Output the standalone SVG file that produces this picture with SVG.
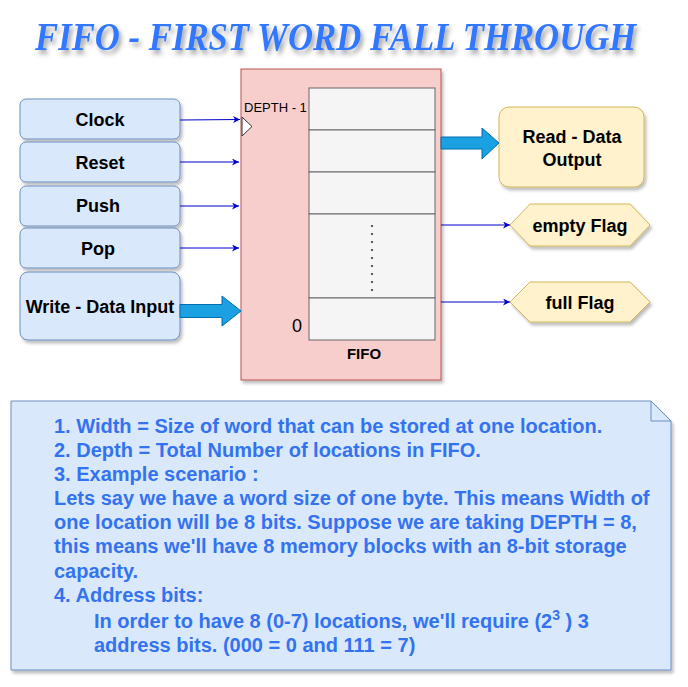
<svg xmlns="http://www.w3.org/2000/svg" width="688" height="687" viewBox="0 0 688 687">
<style>
.blue{fill:#dae8fc;stroke:#6c8ebf;stroke-width:1}
.yel{fill:#fff2cc;stroke:#d6b656;stroke-width:1}
.lbl{font-family:"Liberation Sans",Arial,sans-serif;font-weight:bold;font-size:18px;fill:#000;text-anchor:middle}
.note{font-family:"Liberation Sans",Arial,sans-serif;font-weight:bold;font-size:20px;fill:#3373f0}
.cell{fill:#f5f5f5;stroke:#666;stroke-width:1}
.wire{stroke:#0000cc;stroke-width:1;fill:none}
.big{fill:#1ba1e2;stroke:#006eaf;stroke-width:1}
</style>
<defs>
<filter id="sh" x="-10%" y="-10%" width="130%" height="130%">
<feDropShadow dx="2" dy="3" stdDeviation="1.5" flood-color="#000" flood-opacity="0.25"/>
</filter>
<filter id="tsh" x="-10%" y="-50%" width="120%" height="200%">
<feDropShadow dx="3" dy="4" stdDeviation="2.5" flood-color="#000" flood-opacity="0.35"/>
</filter>
<marker id="ah" viewBox="0 0 10 10" refX="10" refY="5" markerWidth="7" markerHeight="7" markerUnits="userSpaceOnUse" orient="auto">
<path d="M0,0 L10,5 L0,10 L3,5 Z" fill="#0000cc"/>
</marker>
</defs>
<rect width="688" height="687" fill="#fff"/>

<g id="title" transform="translate(35,50) scale(0.89,1)">
<text x="0" y="0" font-family="'Liberation Serif','Times New Roman',serif" font-weight="bold" font-style="italic" font-size="39" fill="#3377ff" filter="url(#tsh)">FIFO - FIRST WORD FALL THROUGH</text>
</g>

<g id="fifo">
<rect x="241" y="69" width="200" height="311" fill="#f8cecc" stroke="#b85450" filter="url(#sh)"/>
<rect class="cell" x="309" y="88" width="126" height="42"/>
<rect class="cell" x="309" y="130" width="126" height="42"/>
<rect class="cell" x="309" y="172" width="126" height="42"/>
<rect class="cell" x="309" y="214" width="126" height="84"/>
<rect class="cell" x="309" y="298" width="126" height="42"/>
<g fill="#333">
<circle cx="372" cy="226" r="1.1"/><circle cx="372" cy="234" r="1.1"/><circle cx="372" cy="242" r="1.1"/>
<circle cx="372" cy="250" r="1.1"/><circle cx="372" cy="258" r="1.1"/><circle cx="372" cy="266" r="1.1"/>
<circle cx="372" cy="274" r="1.1"/><circle cx="372" cy="282" r="1.1"/><circle cx="372" cy="290" r="1.1"/>
</g>
<polygon points="242,117 252,126.5 242,136" fill="#fff" stroke="#333" stroke-width="1"/>
<text x="244" y="112" font-family="'Liberation Sans',Arial,sans-serif" font-size="13" fill="#000">DEPTH - 1</text>
<text x="297" y="332" font-family="'Liberation Sans',Arial,sans-serif" font-size="18" fill="#000" text-anchor="middle">0</text>
<text x="364" y="359" class="lbl" style="font-size:15px">FIFO</text>
</g>

<g id="clock"><rect class="blue" x="20" y="99" width="160" height="40" rx="6" filter="url(#sh)"/><text class="lbl" x="100" y="126">Clock</text></g>
<g id="reset"><rect class="blue" x="20" y="142" width="160" height="40" rx="6" filter="url(#sh)"/><text class="lbl" x="100" y="169">Reset</text></g>
<g id="push"><rect class="blue" x="20" y="186" width="160" height="40" rx="6" filter="url(#sh)"/><text class="lbl" x="98" y="212">Push</text></g>
<g id="pop"><rect class="blue" x="20" y="228" width="160" height="40" rx="6" filter="url(#sh)"/><text class="lbl" x="98" y="255">Pop</text></g>
<g id="write"><rect class="blue" x="20" y="272" width="160" height="68" rx="8" filter="url(#sh)"/><text class="lbl" x="100" y="313">Write - Data Input</text></g>

<g id="read"><rect class="yel" x="499" y="107" width="145" height="80" rx="10" filter="url(#sh)"/><text class="lbl" x="572" y="143">Read - Data</text><text class="lbl" x="572" y="166">Output</text></g>
<g id="empty"><polygon class="yel" points="510,225 530,204 630,204 650,225 630,246 530,246" filter="url(#sh)"/><text class="lbl" x="580" y="232">empty Flag</text></g>
<g id="full"><polygon class="yel" points="510,302 530,282 630,282 650,302 630,322 530,322" filter="url(#sh)"/><text class="lbl" x="580" y="309">full Flag</text></g>

<g id="connectors">
<path class="wire" d="M180,120 L240,119.5" marker-end="url(#ah)"/>
<path class="wire" d="M180,162 L239,162" marker-end="url(#ah)"/>
<path class="wire" d="M180,206 L239,206" marker-end="url(#ah)"/>
<path class="wire" d="M180,248 L239,248" marker-end="url(#ah)"/>
<path class="wire" d="M441,225 L510,225" marker-end="url(#ah)"/>
<path class="wire" d="M441,302 L510,302" marker-end="url(#ah)"/>
<path class="big" d="M180,304.5 L222,304.5 L222,296 L241,311 L222,326 L222,317.5 L180,317.5 Z"/>
<path class="big" d="M441,137 L482,137 L482,128 L499,143 L482,159 L482,149 L441,149 Z"/>
</g>

<g id="notes">
<path class="blue" d="M11,401 L651,401 L671,421 L671,670 L11,670 Z" filter="url(#sh)"/>
<path d="M651,401 L651,421 L671,421" fill="none" stroke="#6c8ebf" stroke-width="1"/>
<text class="note" x="54" y="433">1. Width = Size of word that can be stored at one location.</text>
<text class="note" x="54" y="457">2. Depth = Total Number of locations in FIFO.</text>
<text class="note" x="54" y="481">3. Example scenario :</text>
<text class="note" x="54" y="505">Lets say we have a word size of one byte. This means Width of</text>
<text class="note" x="54" y="529">one location will be 8 bits. Suppose we are taking DEPTH = 8,</text>
<text class="note" x="54" y="553">this means we'll have 8 memory blocks with an 8-bit storage</text>
<text class="note" x="54" y="578">capacity.</text>
<text class="note" x="54" y="602">4. Address bits:</text>
<text class="note" x="94" y="628">In order to have 8 (0-7) locations, we'll require (2<tspan font-size="14" dy="-8">3</tspan><tspan dy="8"> ) 3</tspan></text>
<text class="note" x="94" y="652">address bits. (000 = 0 and 111 = 7)</text>
</g>
</svg>
